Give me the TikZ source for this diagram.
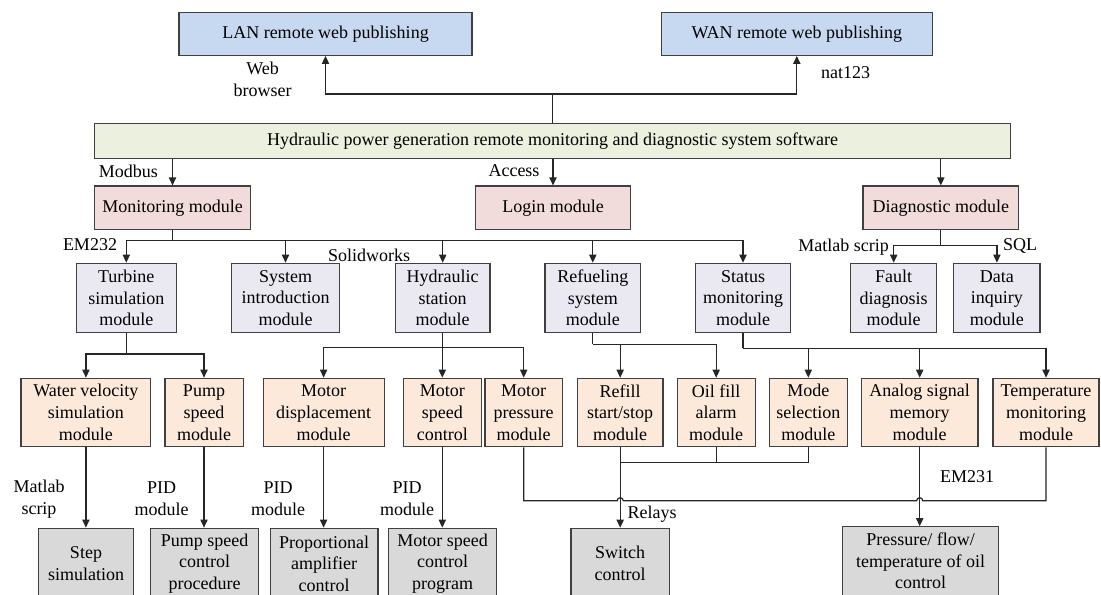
\documentclass[tikz,border=0pt]{standalone}
\usepackage{fontspec}
\setmainfont{Liberation Serif}
\usetikzlibrary{arrows.meta,positioning,calc}

\definecolor{webblue}{HTML}{C6D9F1}
\definecolor{softgreen}{HTML}{EBF1DE}
\definecolor{modpink}{HTML}{F2DCDB}
\definecolor{sublilac}{HTML}{EAE8F1}
\definecolor{unitpeach}{HTML}{FDE9D9}
\definecolor{ctlgray}{HTML}{D9D9D9}
\definecolor{edgegray}{HTML}{404040}

\begin{document}
\begin{tikzpicture}[
  x=0.5pt, y=-0.5pt,
  font=\fontsize{9}{10.85}\selectfont,
  >={Triangle[length=4pt,width=3.6pt]},
  box/.style={draw=edgegray, line width=0.6pt, inner sep=1pt, align=center},
  webbox/.style={box, fill=webblue, minimum height=21.5pt},
  softbox/.style={box, fill=softgreen, minimum width=457.75pt, minimum height=17.5pt},
  modbox/.style={box, fill=modpink, minimum width=77.75pt, minimum height=21.65pt},
  subbox/.style={box, fill=sublilac, minimum height=34.7pt},
  unitbox/.style={box, fill=unitpeach, minimum height=34.2pt},
  ctlbox/.style={box, fill=ctlgray, minimum height=35.35pt},
  wire/.style={draw=black!85, line width=0.6pt},
  lbl/.style={inner sep=0pt, align=center},
]
\useasboundingbox (0,0) rectangle (1101,594);
\clip (0,0) rectangle (1101,594);
\fill[white] (0,0) rectangle (1101,594);

% Web publishing
\node[webbox, minimum width=146.5pt] (lan) at (325.5,33.8) {LAN remote web publishing};
\node[webbox, minimum width=135.5pt] (wan) at (796.8,33.8) {WAN remote web publishing};

% Software
\node[softbox] (soft) at (552.5,140.8) {Hydraulic power generation remote monitoring and diagnostic system software};

% Main modules
\node[modbox] (mon)   at (172.5,207.7) {Monitoring module};
\node[modbox] (login) at (553,207.7)   {Login module};
\node[modbox] (diag)  at (940.8,207.7) {Diagnostic module};

% Sub modules
\node[subbox, minimum width=49.8pt]  (turb)     at (126.3,298) {Turbine\\simulation\\module};
\node[subbox, minimum width=54pt]    (sysintro) at (285.5,298) {System\\introduction\\module};
\node[subbox, minimum width=47.35pt] (hyd)      at (442.7,298) {Hydraulic\\station\\module};
\node[subbox, minimum width=47.75pt] (refuel)   at (592.8,298) {Refueling\\system\\module};
\node[subbox, minimum width=47.5pt]  (status)   at (743,298)   {Status\\monitoring\\module};
\node[subbox, minimum width=43.15pt] (fault)    at (893.7,298) {Fault\\diagnosis\\module};
\node[subbox, minimum width=43.15pt] (data)     at (996.9,298) {Data\\inquiry\\module};

% Function units
\node[unitbox, minimum width=64.9pt]  (water)   at (85.9,412.5)  {Water velocity\\simulation\\module};
\node[unitbox, minimum width=39.1pt]  (pump)    at (204,412.5)   {Pump\\speed\\module};
\node[unitbox, minimum width=60.5pt]  (mdisp)   at (323.6,412.5) {Motor\\displacement\\module};
\node[unitbox, minimum width=38.9pt]  (mspeed)  at (442.3,412.5) {Motor\\speed\\control};
\node[unitbox, minimum width=38.65pt] (mpress)  at (523.7,412.5) {Motor\\pressure\\module};
\node[unitbox, minimum width=42.8pt]  (refill)  at (620.2,412.5) {Refill\\start/stop\\module};
\node[unitbox, minimum width=38.95pt] (oilfill) at (716.2,412.5) {Oil fill\\alarm\\module};
\node[unitbox, minimum width=39.1pt]  (mode)    at (808.3,412.5) {Mode\\selection\\module};
\node[unitbox, minimum width=58.2pt]  (analog)  at (919.7,412.5) {Analog signal\\memory\\module};
\node[unitbox, minimum width=53pt]    (temp)    at (1046,412.5)  {Temperature\\monitoring\\module};

% Control outputs
\node[ctlbox, minimum width=47.35pt] (step)     at (86,563.6)    {Step\\simulation};
\node[ctlbox, minimum width=53.85pt] (pumpctl)  at (204.7,563.6) {Pump speed\\control\\procedure};
\node[ctlbox, minimum width=53.9pt]  (propamp)  at (324,563.6)   {Proportional\\amplifier\\control};
\node[ctlbox, minimum width=53.85pt] (mspdprog) at (442.5,563.6) {Motor speed\\control\\program};
\node[ctlbox, minimum width=49.15pt] (switch)   at (620.2,563.6) {Switch\\control};
\node[ctlbox, minimum width=77.8pt, minimum height=34.2pt] (pressctl) at (920.5,561) {Pressure/ flow/\\temperature of oil\\control};

% Software -> web publishing
\coordinate (webbus) at (soft.north |- 0,94);
\draw[wire,->] (soft.north) -- (webbus) -| (lan.south);
\draw[wire,->] (webbus) -| (wan.south);

% Software -> main modules
\foreach \m in {mon,login,diag}
  \draw[wire,->] (soft.south -| \m.north) -- (\m.north);

% Main modules -> sub modules
\coordinate (monbus) at (mon.south |- 0,240.7);
\draw[wire] (mon.south) -- (monbus);
\foreach \m in {turb,sysintro,hyd,refuel,status}
  \draw[wire,->] (monbus) -| (\m.north);

\coordinate (diagbus) at (diag.south |- 0,245.7);
\draw[wire] (diag.south) -- (diagbus);
\foreach \m in {fault,data}
  \draw[wire,->] (diagbus) -| (\m.north);

% Sub modules -> function units
\coordinate (turbbus) at (turb.south |- 0,354);
\draw[wire] (turb.south) -- (turbbus);
\foreach \m in {water,pump}
  \draw[wire,->] (turbbus) -| (\m.north);

\coordinate (hydbus) at (hyd.south |- 0,347.3);
\draw[wire] (hyd.south) -- (hydbus);
\foreach \m in {mdisp,mspeed,mpress}
  \draw[wire,->] (hydbus) -| (\m.north);

\coordinate (refbus) at (refuel.south |- 0,344.3);
\draw[wire] (refuel.south) -- (refbus);
\foreach \m in {refill,oilfill}
  \draw[wire,->] (refbus) -| (\m.north);

\coordinate (statbus) at (status.south |- 0,348.3);
\draw[wire] (status.south) -- (statbus);
\foreach \m in {mode,analog,temp}
  \draw[wire,->] (statbus) -| (\m.north);

% Function units -> control outputs
\foreach \a/\b in {water/step,pump/pumpctl,mdisp/propamp,mspeed/mspdprog,refill/switch,analog/pressctl}
  \draw[wire,->] (\a.south) -- (\a.south |- \b.north);

% Refill, oil fill and mode join
\coordinate (filljoin) at (refill.south |- 0,462.7);
\draw[wire] (oilfill.south) -- (oilfill.south |- filljoin);
\draw[wire] (mode.south) |- (filljoin);

% Pressure to temperature line, hopping over the verticals
\coordinate (relaybus) at (mpress.south |- 0,500.7);
\draw[wire] (mpress.south) -- (relaybus)
  -- ($(refill.south |- relaybus)+(-3,0)$) arc[start angle=180, end angle=0, radius=1.5pt]
  -- ($(analog.south |- relaybus)+(-3,0)$) arc[start angle=180, end angle=0, radius=1.5pt]
  -- (temp.south |- relaybus) -- (temp.south);

% Labels
\node[lbl] (webl)   at (262.7,79)    {Web\\browser};
\node[lbl] (natl)   at (845.6,72.7)  {nat123};
\node[lbl] (modbl)  at (128.5,171)   {Modbus};
\node[lbl] (accl)   at (514,171)     {Access};
\node[lbl] (em232l) at (90,245)      {EM232};
\node[lbl] (solidl) at (369,255)     {Solidworks};
\node[lbl] (matl)   at (843.7,246.7) {Matlab scrip};
\node[lbl] (sqll)   at (1020,246)    {SQL};
\node[lbl] (mat2l)  at (39,499)      {Matlab\\scrip};
\node[lbl] (pid1l)  at (161.7,499)   {PID\\module};
\node[lbl] (pid2l)  at (278,499)     {PID\\module};
\node[lbl] (pid3l)  at (407,499)     {PID\\module};
\node[lbl] (relayl) at (652,514.3)   {Relays};
\node[lbl] (em231l) at (967,476.7)   {EM231};

\end{tikzpicture}
\end{document}
